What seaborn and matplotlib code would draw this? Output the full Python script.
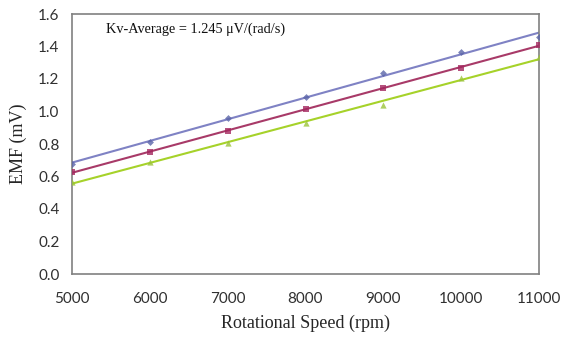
import numpy as np
import pandas as pd
import matplotlib
matplotlib.use("Agg")
import matplotlib.pyplot as plt
import seaborn as sns

speed = [5000, 6000, 7000, 8000, 9000, 10000, 11000]
emf_a = [0.677, 0.81, 0.96, 1.09, 1.237, 1.366, 1.458]
emf_b = [0.628, 0.75, 0.88, 1.015, 1.145, 1.268, 1.41]
emf_c = [0.566, 0.69, 0.806, 0.929, 1.04, 1.206, 1.335]
yticks = [0.0, 0.2, 0.4, 0.6, 0.8, 1.0, 1.2, 1.4, 1.6]
xticks = [5000, 6000, 7000, 8000, 9000, 10000, 11000]

sns.set_style("white")
fig = plt.figure(figsize=(5.64, 3.38), dpi=100)
ax = fig.add_axes([72/564, 1 - 274/338, (539-72)/564, (274-14)/338])

series = [
    (emf_a, "D", "#5A64A8", "#7F82C4", 3.5),
    (emf_b, "s", "#A3275E", "#A83A68", 5),
    (emf_c, "^", "#9BC43A", "#A6D22A", 4.5),
]
for vals, mk, mc, lc, ms in series:
    df = pd.DataFrame({"speed": speed, "emf": vals})
    sns.regplot(data=df, x="speed", y="emf", ax=ax, ci=None, truncate=True,
                marker=mk, scatter_kws=dict(color=mc, s=ms**2, linewidths=0, zorder=3),
                line_kws=dict(color=lc, lw=1.5, zorder=2))

ax.set_xlim(5000, 11000)
ax.set_ylim(0, 1.6)
ax.set_xticks(xticks)
ax.set_yticks(yticks)
ax.set_yticklabels([f"{v:.1f}" for v in yticks])
for s in ax.spines.values():
    s.set_color("#808080")
    s.set_linewidth(1.2)
ax.tick_params(axis="both", direction="out", length=5, width=1, color="#808080",
               labelsize=11, labelcolor="#303030", pad=4)
ax.tick_params(axis="x", pad=8)
for lab in ax.get_xticklabels() + ax.get_yticklabels():
    lab.set_family("Lato")
ax.set_xlabel("Rotational Speed (rpm)", family="Liberation Serif", fontsize=13, labelpad=6)
ax.set_ylabel("EMF (mV)", family="Liberation Serif", fontsize=13, labelpad=8)
ax.text(0.073, 0.94, "Kv-Average = 1.245 μV/(rad/s)", transform=ax.transAxes,
        family="Liberation Serif", fontsize=10.3, va="center", ha="left", color="#111111")
fig.savefig("out.png", dpi=100)
